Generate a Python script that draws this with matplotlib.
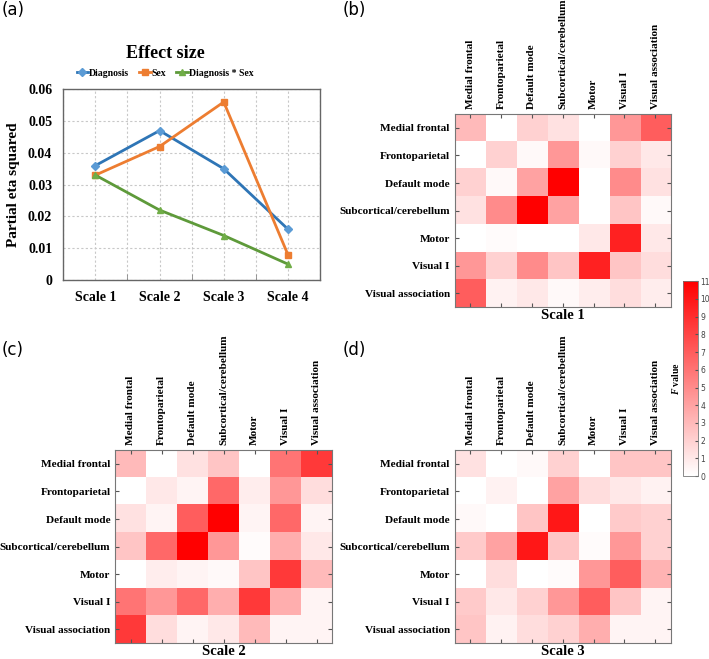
import numpy as np
import matplotlib
matplotlib.use('Agg')
import matplotlib.pyplot as plt
from matplotlib.colors import LinearSegmentedColormap

plt.rcParams['font.family'] = 'Liberation Serif'
plt.rcParams['font.weight'] = 'bold'
plt.rcParams['axes.labelweight'] = 'bold'
plt.rcParams['mathtext.fontset'] = 'custom'
plt.rcParams['mathtext.it'] = 'Liberation Serif:italic:bold'

# ---------------- data ----------------
scales = ['Scale 1', 'Scale 2', 'Scale 3', 'Scale 4']
diagnosis = [0.036, 0.047, 0.035, 0.016]
sex = [0.033, 0.042, 0.056, 0.008]
diag_sex = [0.033, 0.022, 0.014, 0.005]

networks = ['Medial frontal', 'Frontoparietal', 'Default mode', 'Subcortical/cerebellum',
            'Motor', 'Visual I', 'Visual association']

scale1 = [[3.0, 0.0, 2.0, 1.3, 0.0, 4.5, 7.0],
          [0.0, 2.0, 0.3, 4.5, 0.3, 2.0, 1.0],
          [2.0, 0.3, 4.0, 11.0, 0.0, 5.0, 1.3],
          [1.3, 5.0, 11.0, 4.0, 0.0, 2.5, 0.3],
          [0.0, 0.2, 0.0, 0.0, 1.0, 9.5, 1.0],
          [4.5, 2.0, 5.0, 2.5, 9.5, 2.5, 1.5],
          [7.0, 0.6, 1.0, 0.3, 0.8, 1.5, 0.8]]

scale2 = [[3.0, 0.0, 1.3, 2.5, 0.0, 6.0, 8.5],
          [0.0, 1.0, 0.5, 6.5, 0.8, 4.5, 1.5],
          [1.3, 0.5, 7.0, 11.0, 0.5, 6.5, 0.5],
          [2.5, 6.5, 11.0, 4.5, 0.2, 3.5, 1.0],
          [0.0, 0.8, 0.5, 0.3, 2.5, 8.5, 3.0],
          [6.0, 4.5, 6.5, 3.5, 8.5, 3.5, 0.5],
          [8.5, 1.5, 0.5, 1.0, 3.0, 0.5, 0.5]]

scale3 = [[1.3, 0.0, 0.3, 2.0, 0.0, 2.5, 2.5],
          [0.0, 0.6, 0.0, 4.0, 1.5, 1.0, 0.6],
          [0.3, 0.0, 2.5, 10.0, 0.0, 2.3, 2.0],
          [2.3, 4.0, 10.0, 2.5, 0.2, 4.5, 2.0],
          [0.0, 1.5, 0.0, 0.2, 4.5, 7.0, 3.3],
          [2.3, 1.0, 2.0, 4.5, 7.0, 2.5, 0.5],
          [2.5, 0.6, 1.5, 2.0, 3.5, 0.5, 0.5]]

cmap = LinearSegmentedColormap.from_list('wr', ['#ffffff', '#ff0000'])

fig = plt.figure(figsize=(7.09, 6.59), dpi=100)
W, H = 709.0, 659.0


def box(left, top, right, bottom):
    return [left / W, 1 - bottom / H, (right - left) / W, (bottom - top) / H]


# ---------------- (a) line chart ----------------
ax = fig.add_axes(box(63.3, 89.3, 320, 280))
x = np.arange(len(scales))
ax.plot(x, diagnosis, color='#2E75B6', lw=2, marker='D', ms=4, mfc='#5B9BD5', mec='#5B9BD5', label='Diagnosis')
ax.plot(x, sex, color='#ED7D31', lw=2, marker='s', ms=4, mfc='#ED7D31', mec='#ED7D31', label='Sex')
ax.plot(x, diag_sex, color='#5E9A3A', lw=2, marker='^', ms=4, mfc='#70AD47', mec='#70AD47', label='Diagnosis * Sex')
ax.set_xlim(-0.5, 3.5)
ax.set_ylim(0, 0.06)
ax.set_yticks(np.arange(0, 0.061, 0.01))
ax.set_yticklabels(['0', '0.01', '0.02', '0.03', '0.04', '0.05', '0.06'])
ax.set_xticks(x)
ax.set_xticklabels(scales)
ax.set_xticks(np.arange(-0.5, 3.6, 1), minor=True)
ax.grid(True, which='both', color='#c8c8c8', ls=(0, (2, 2)), lw=0.8)
ax.tick_params(axis='both', which='major', length=0, labelsize=10, pad=8)
ax.tick_params(axis='x', which='minor', direction='in', length=4, color='#888888')
for s in ax.spines.values():
    s.set_color('#666666')
    s.set_linewidth(1)
ax.set_ylabel('Partial eta squared', fontsize=11, labelpad=6)
fig.text(165 / W, 1 - 53 / H, 'Effect size', ha='center', va='center', fontsize=13)
fig.legend(*ax.get_legend_handles_labels(), loc='center', bbox_to_anchor=(165 / W, 1 - 73 / H),
           ncol=3, frameon=False, fontsize=7, handlelength=1.2, handletextpad=0.1,
           columnspacing=1.0, borderaxespad=0, borderpad=0)

# ---------------- heatmaps ----------------
def heat(rect, data, title):
    h = fig.add_axes(rect)
    im = h.imshow(np.array(data), cmap=cmap, vmin=0, vmax=11, aspect='auto', interpolation='nearest')
    h.set_xticks(range(7))
    h.set_yticks(range(7))
    h.set_xticklabels(networks, rotation=90, fontsize=8.1)
    h.set_yticklabels(networks, fontsize=8.1)
    h.tick_params(direction='in', length=3, color='#555555', top=True, bottom=True,
                  left=True, right=True, labeltop=True, labelbottom=False, pad=3.5)
    h.set_xlabel(title, fontsize=10.5, labelpad=1)
    h.xaxis.set_label_position('bottom')
    for s in h.spines.values():
        s.set_color('#777777')
        s.set_linewidth(0.8)
    return im


im = heat(box(454.7, 114, 670.7, 307.3), scale1, 'Scale 1')
heat(box(115.3, 450, 332, 643.3), scale2, 'Scale 2')
heat(box(454.7, 450, 670.7, 643.3), scale3, 'Scale 3')

cax = fig.add_axes(box(683.3, 281.3, 697.7, 476))
cb = fig.colorbar(im, cax=cax, ticks=range(12))
cb.outline.set_edgecolor('#777777')
cb.outline.set_linewidth(0.6)
cax.tick_params(labelsize=5.5, length=2, direction='in', color='#555555', labelcolor='#444444', pad=2)
for t in cax.get_yticklabels():
    t.set_family('DejaVu Sans')
    t.set_weight('normal')
cax.set_ylabel(r'$F$ value', fontsize=7, labelpad=2)
cax.yaxis.set_label_position('left')

# panel letters
for lab, px, py in [('(a)', 2, 10), ('(b)', 343, 10), ('(c)', 2, 350), ('(d)', 343, 350)]:
    fig.text(px / W, 1 - py / H, lab, fontsize=12, family='DejaVu Sans', weight='normal',
             ha='left', va='center')

fig.savefig('out.png', dpi=100)
